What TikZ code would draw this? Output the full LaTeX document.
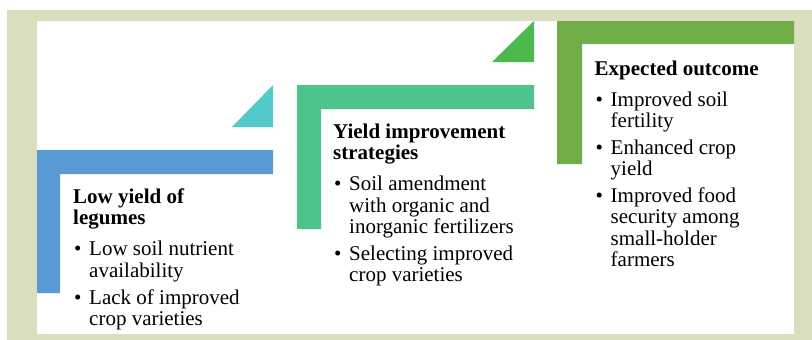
\documentclass[tikz,border=0pt]{standalone}
\usepackage{fontspec}
\setmainfont{Liberation Serif}

\definecolor{framebg}{RGB}{217,222,191}
\definecolor{stepblue}{RGB}{91,155,213}
\definecolor{stepteal}{RGB}{84,201,203}
\definecolor{stepgreen}{RGB}{78,196,141}
\definecolor{steplime}{RGB}{76,185,78}
\definecolor{stepolive}{RGB}{112,173,71}

% spacing inside the text blocks
\newlength\itemgap \setlength\itemgap{5.5pt}
\newlength\titlegap \setlength\titlegap{4.1pt}
\newcommand\steptitle[1]{{\bfseries #1\par}\vspace{\titlegap}}
\newcommand\stepitem[1]{\par\vspace{\itemgap}\noindent\hangindent=16pt\hangafter=1
  \makebox[16pt][l]{\hspace{1pt}\textbullet}#1\par}

\tikzset{
  stepbar/.style={line width=0pt},
  stepbody/.style={inner sep=0pt, anchor=base west,
    font=\fontsize{21}{21.4}\selectfont},
}

\begin{document}
\begin{tikzpicture}[x=1pt,y=-1pt]
\useasboundingbox (0,0) rectangle (812,340);
% page and frame
\fill[white] (0,0) rectangle (812,340);
\fill[framebg] (7,10) rectangle (812,340);
\fill[white] (37,21) rectangle (793.5,333.5);

% step 1: problem
\fill[stepblue] (37,150) -- (273,150) -- (273,174) -- (60,174) -- (60,293) -- (37,293) -- cycle;
\fill[stepteal] (232,127) -- (273,127) -- (273,85) -- cycle;
\node[stepbody] (problem) at (73,203.3) {\parbox[t]{200pt}{%
  \steptitle{Low yield of\newline legumes}%
  \stepitem{Low soil nutrient\newline availability}%
  \stepitem{Lack of improved\newline crop varieties}}};

% step 2: strategies
\fill[stepgreen] (297,85) -- (534,85) -- (534,109) -- (321,109) -- (321,229) -- (297,229) -- cycle;
\fill[steplime] (492,62) -- (534,62) -- (534,21) -- cycle;
\node[stepbody] (strategies) at (333,138.3) {\parbox[t]{200pt}{%
  \steptitle{Yield improvement\newline strategies}%
  \stepitem{Soil amendment\newline with organic and\newline inorganic fertilizers}%
  \stepitem{Selecting improved\newline crop varieties}}};

% step 3: outcome
\fill[stepolive] (557,21) -- (794,21) -- (794,44) -- (582,44) -- (582,164) -- (557,164) -- cycle;
\node[stepbody] (outcome) at (594.5,75) {\parbox[t]{190pt}{%
  \steptitle{Expected outcome}%
  \stepitem{Improved soil\newline fertility}%
  \stepitem{Enhanced crop\newline yield}%
  \stepitem{Improved food\newline security among\newline small-holder\newline farmers}}};
\end{tikzpicture}
\end{document}
